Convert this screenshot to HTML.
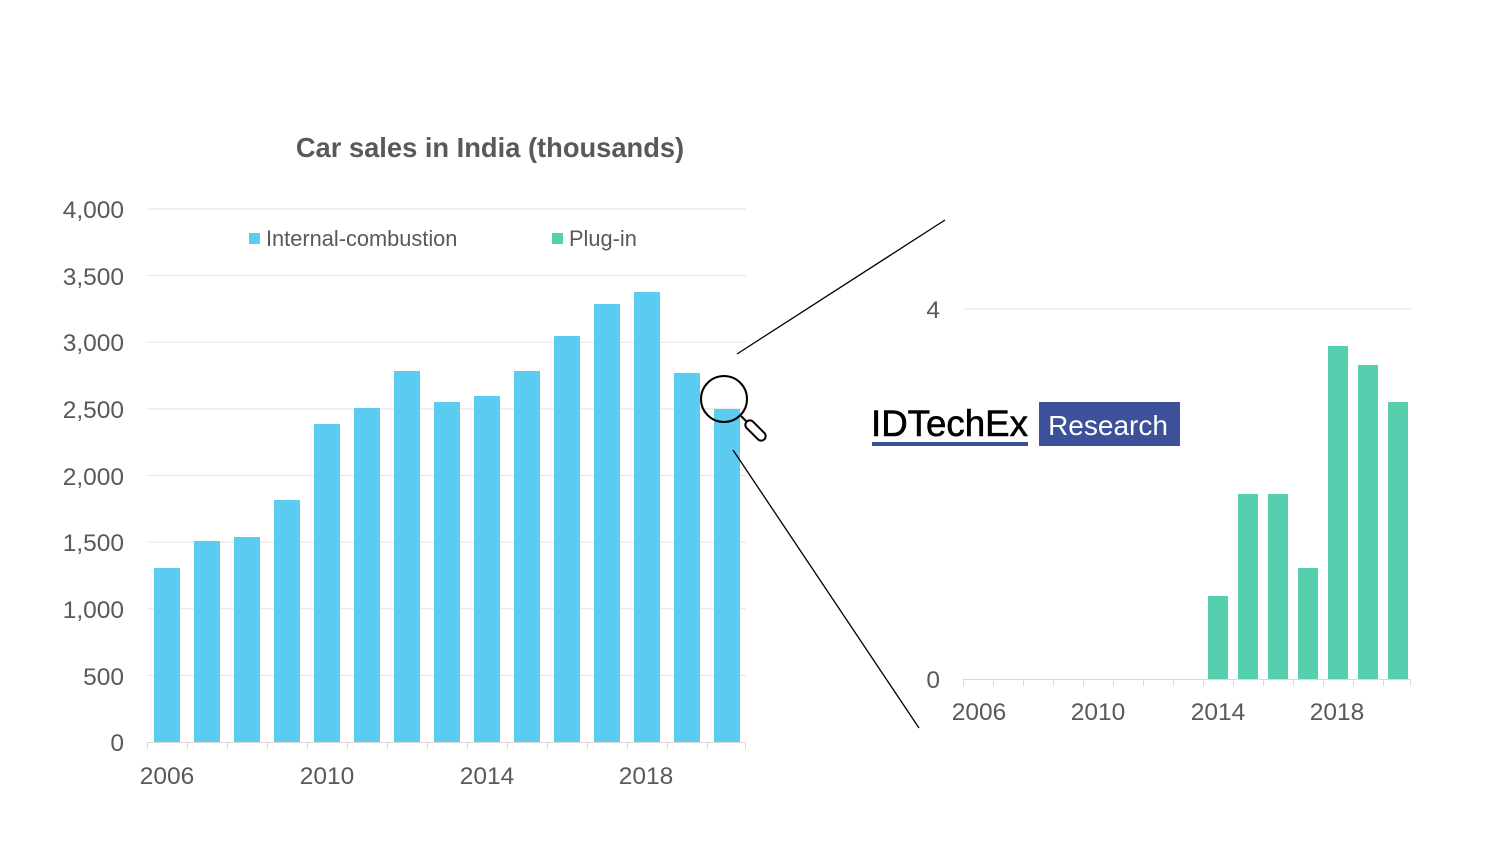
<!DOCTYPE html><html><head><style>body{margin:0;background:#fff}</style></head><body>
<svg width="1500" height="844" xmlns="http://www.w3.org/2000/svg" font-family="Liberation Sans, sans-serif">
<rect width="1500" height="844" fill="#fff"/>
<text x="490" y="157" text-anchor="middle" font-size="27.3" font-weight="bold" fill="#595959">Car sales in India (thousands)</text>
<g stroke="#e3e3e3" stroke-width="1">
<line x1="147" x2="746" y1="209" y2="209"/><line x1="147" x2="746" y1="275.6" y2="275.6"/><line x1="147" x2="746" y1="342.3" y2="342.3"/><line x1="147" x2="746" y1="408.9" y2="408.9"/><line x1="147" x2="746" y1="475.5" y2="475.5"/><line x1="147" x2="746" y1="542.1" y2="542.1"/><line x1="147" x2="746" y1="608.8" y2="608.8"/><line x1="147" x2="746" y1="675.4" y2="675.4"/>
</g>
<g font-size="24.5" fill="#595959" text-anchor="end">
<text x="124" y="218">4,000</text><text x="124" y="285">3,500</text><text x="124" y="351">3,000</text><text x="124" y="418">2,500</text><text x="124" y="485">2,000</text><text x="124" y="551">1,500</text><text x="124" y="618">1,000</text><text x="124" y="685">500</text><text x="124" y="751">0</text>
</g>
<g fill="#5BCBF0">
<rect x="154" y="568" width="26" height="174"/><rect x="194" y="541" width="26" height="201"/><rect x="234" y="537" width="26" height="205"/><rect x="274" y="500" width="26" height="242"/><rect x="314" y="424" width="26" height="318"/><rect x="354" y="408" width="26" height="334"/><rect x="394" y="371" width="26" height="371"/><rect x="434" y="402" width="26" height="340"/><rect x="474" y="396" width="26" height="346"/><rect x="514" y="371" width="26" height="371"/><rect x="554" y="336" width="26" height="406"/><rect x="594" y="304" width="26" height="438"/><rect x="634" y="292" width="26" height="450"/><rect x="674" y="373" width="26" height="369"/><rect x="714" y="409" width="26" height="333"/>
</g>
<g stroke="#d9d9d9" stroke-width="1">
<line x1="147" x2="746" y1="742.5" y2="742.5"/>
<path d="M147.5 742v7M187.5 742v7M227.5 742v7M267.5 742v7M307.5 742v7M347.5 742v7M387.5 742v7M427.5 742v7M467.5 742v7M507.5 742v7M547.5 742v7M587.5 742v7M627.5 742v7M667.5 742v7M707.5 742v7M745.5 742v7"/>
</g>
<g font-size="24.5" fill="#595959" text-anchor="middle">
<text x="167" y="784">2006</text><text x="327" y="784">2010</text><text x="487" y="784">2014</text><text x="646" y="784">2018</text>
</g>
<rect x="249" y="233" width="11" height="11" fill="#5BCBF0"/><text x="266" y="246" font-size="21.8" fill="#595959">Internal-combustion</text>
<rect x="552" y="233" width="11" height="11" fill="#56CFAE"/><text x="569" y="246" font-size="21.8" fill="#595959">Plug-in</text>
<line x1="737" y1="354" x2="945" y2="220" stroke="#000" stroke-width="1.3"/>
<line x1="733" y1="450" x2="919" y2="728" stroke="#000" stroke-width="1.3"/>
<circle cx="724" cy="399" r="23" fill="none" stroke="#000" stroke-width="2"/>
<line x1="741" y1="416" x2="746" y2="421" stroke="#000" stroke-width="2"/>
<rect x="743" y="426" width="25" height="9" rx="4.5" transform="rotate(45 755.5 430.5)" fill="#fff" stroke="#000" stroke-width="2"/>
<line x1="963" x2="1411" y1="309" y2="309" stroke="#e3e3e3"/>
<text x="940" y="318" font-size="24.5" fill="#595959" text-anchor="end">4</text>
<text x="940" y="688" font-size="24.5" fill="#595959" text-anchor="end">0</text>
<g fill="#56CFAE">
<rect x="1208" y="596" width="20" height="83"/><rect x="1238" y="494" width="20" height="185"/><rect x="1268" y="494" width="20" height="185"/><rect x="1298" y="568" width="20" height="111"/><rect x="1328" y="346" width="20" height="333"/><rect x="1358" y="365" width="20" height="314"/><rect x="1388" y="402" width="20" height="277"/>
</g>
<g stroke="#d9d9d9" stroke-width="1">
<line x1="963" x2="1411" y1="679.5" y2="679.5"/>
<path d="M963.5 679v7M993.5 679v7M1023.5 679v7M1053.5 679v7M1083.5 679v7M1113.5 679v7M1143.5 679v7M1173.5 679v7M1203.5 679v7M1233.5 679v7M1263.5 679v7M1293.5 679v7M1323.5 679v7M1353.5 679v7M1383.5 679v7M1410.5 679v7"/>
</g>
<g font-size="24.5" fill="#595959" text-anchor="middle">
<text x="979" y="720">2006</text><text x="1098" y="720">2010</text><text x="1218" y="720">2014</text><text x="1337" y="720">2018</text>
</g>
<text x="871" y="436" font-size="37" fill="#000" stroke="#000" stroke-width="0.6" textLength="157" lengthAdjust="spacingAndGlyphs">IDTechEx</text>
<rect x="872" y="442" width="156" height="4" fill="#3C5199"/>
<rect x="1039" y="402" width="141" height="44" fill="#3C5199"/>
<text x="1108" y="435" font-size="28" fill="#fff" text-anchor="middle">Research</text>
</svg>
</body></html>
